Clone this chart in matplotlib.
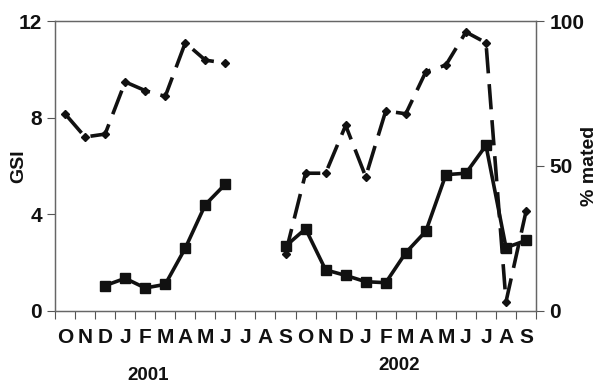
import numpy as np
import matplotlib
matplotlib.use("Agg")
import matplotlib.pyplot as plt

plt.rcParams['font.family'] = ['Liberation Sans', 'DejaVu Sans']
plt.rcParams['font.weight'] = 'bold'

months = ["O", "N", "D", "J", "F", "M", "A", "M", "J", "J", "A", "S",
          "O", "N", "D", "J", "F", "M", "A", "M", "J", "J", "A", "S"]
nan = np.nan
gsi = [nan, nan, 1.05, 1.35, 0.95, 1.1, 2.6, 4.4, 5.25, nan, nan, 2.68,
       3.4, 1.7, 1.47, 1.21, 1.17, 2.41, 3.3, 5.64, 5.7, 6.85, 2.62, 2.92]
mated = [68, 60, 61, 79, 76, 74, 92.5, 86.5, 85.5, nan, nan, 19.8,
         47.5, 47.5, 64, 46.3, 69, 68, 82.5, 84.8, 96.2, 92.5, 3.2, 34.4]
years = ["2001", "2002"]

fig = plt.figure(figsize=(6.01, 3.82), dpi=100)
ax = fig.add_axes([0.0915, 0.186, 0.8005, 0.759])
ax2 = ax.twinx()

x = np.arange(len(months))
ax.plot(x, gsi, color='#111111', lw=2.6, marker='s', ms=7, zorder=3)
ax2.plot(x, mated, color='#111111', lw=2.6, marker='D', ms=4.5,
         linestyle=(0, (7, 3)), zorder=3)

ax.set_xlim(-0.5, len(months) - 0.5)
ax.set_ylim(0, 12)
ax2.set_ylim(0, 100)
ax.set_yticks([0, 4, 8, 12])
ax2.set_yticks([0, 50, 100])

ax.set_xticks(np.arange(-0.5, len(months), 1.0))
ax.set_xticklabels([])
ax.set_xticks(x, minor=True)
ax.set_xticklabels(months, minor=True)
ax.tick_params(axis='x', which='major', length=6, width=0.8, color='#555555', direction='out')
ax.tick_params(axis='x', which='minor', length=0, pad=12, labelsize=15, labelcolor='#111111')
ax.tick_params(axis='y', length=6, width=0.8, color='#555555', labelsize=15, labelcolor='#111111')
ax2.tick_params(axis='y', length=6, width=0.8, color='#555555', labelsize=15, labelcolor='#111111')

for a in (ax, ax2):
    for s in a.spines.values():
        s.set_color('#666666')
        s.set_linewidth(0.9)

ax.set_ylabel("GSI", fontsize=14, fontweight='bold', color='#111111')
ax.yaxis.set_label_coords(-0.058, 0.5)
ax2.set_ylabel("% mated", fontsize=14, fontweight='bold', color='#111111')
ax2.yaxis.set_label_coords(1.094, 0.5)

fig.text(148 / 601, 1 - 375 / 382, years[0], ha='center', va='center', fontsize=13.5, fontweight='bold', color='#111111')
fig.text(399 / 601, 1 - 366 / 382, years[1], ha='center', va='center', fontsize=13.5, fontweight='bold', color='#111111')

fig.savefig("out.png", dpi=100)
